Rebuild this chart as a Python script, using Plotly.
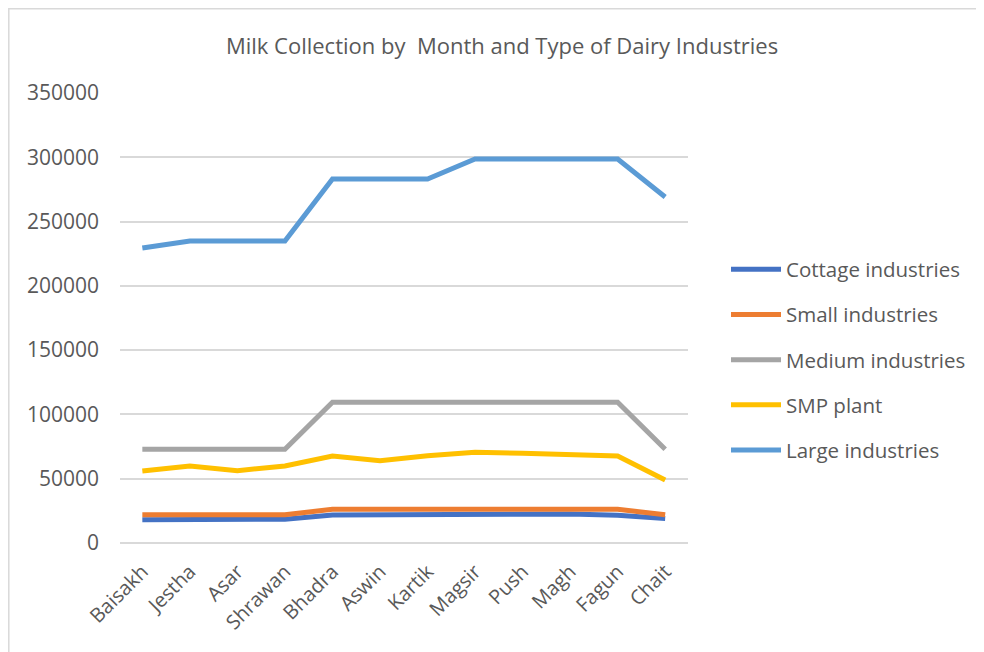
import plotly.graph_objects as go

months = ["Baisakh", "Jestha", "Asar", "Shrawan", "Bhadra", "Aswin", "Kartik",
          "Magsir", "Push", "Magh", "Fagun", "Chait"]
cottage = [18100, 18100, 18100, 18500, 21800, 22000, 22000, 22500, 22500, 22500, 21500, 19000]
small = [22000, 22000, 22000, 22000, 26200, 26200, 26200, 26200, 26200, 26200, 26200, 22000]
medium = [72900, 72900, 72900, 72900, 109400, 109400, 109400, 109400, 109400, 109400, 109400, 72900]
smp = [56000, 59900, 56250, 59900, 67700, 64000, 67800, 70500, 69900, 69000, 67700, 49000]
large = [229500, 234900, 234900, 234900, 283100, 283100, 283100, 298700, 298700, 298700, 298700, 269100]

series = [
    ("Cottage industries", cottage, "#4472C4"),
    ("Small industries", small, "#ED7D31"),
    ("Medium industries", medium, "#A5A5A5"),
    ("SMP plant", smp, "#FFC000"),
    ("Large industries", large, "#5B9BD5"),
]

FONT = "Open Sans"
fig = go.Figure()
for i, (name, vals, col) in enumerate(series):
    fig.add_trace(go.Scatter(x=months, y=vals, name=name, mode="lines",
                             line=dict(color=col, width=5), legendgroup=f"g{i}"))

OFF = 8  # page body margin
W, H = 984 - OFF, 652 - OFF
L, R, T, B = 120 - OFF, 688 - OFF, 93 - OFF, 543 - OFF

def px(x):
    return (x - OFF - L) / (R - L)

def py(y):
    return (B - (y - OFF)) / (B - T)

fig.update_layout(
    width=W, height=H,
    margin=dict(l=L, r=W - R, t=T, b=H - B, autoexpand=False),
    paper_bgcolor="white", plot_bgcolor="white",
    title=dict(text="Milk Collection by  Month and Type of Dairy Industries",
               x=(502 - OFF) / W, xanchor="center", y=1 - (46 - OFF) / H, yanchor="middle",
               font=dict(family=FONT, size=22, color="#595959")),
    font=dict(family=FONT, color="#595959"),
    xaxis=dict(type="category", range=[-0.47, 11.48], tickangle=-45,
               showgrid=False, showline=False, ticks="", ticklabelstandoff=12,
               tickfont=dict(size=20, color="#595959")),
    yaxis=dict(range=[0, 350000], dtick=50000, showgrid=True, gridcolor="#D9D9D9",
               gridwidth=1.5, zeroline=True, zerolinecolor="#D9D9D9", zerolinewidth=1.5,
               showline=False, ticks="", tickformat="d", ticklabelstandoff=20,
               tickfont=dict(size=21, color="#595959")),
    legend=dict(x=px(726), xanchor="left", y=py(360), yanchor="middle",
                font=dict(size=20.5, color="#595959"), tracegroupgap=15.5,
                itemwidth=50, bgcolor="rgba(0,0,0,0)"),
    shapes=[dict(type="rect", xref="paper", yref="paper",
                 x0=px(8.8), x1=px(1000), y0=py(670), y1=py(8.8),
                 line=dict(color="#D9D9D9", width=1.5), layer="below")],
)

fig.write_html("out.html")
